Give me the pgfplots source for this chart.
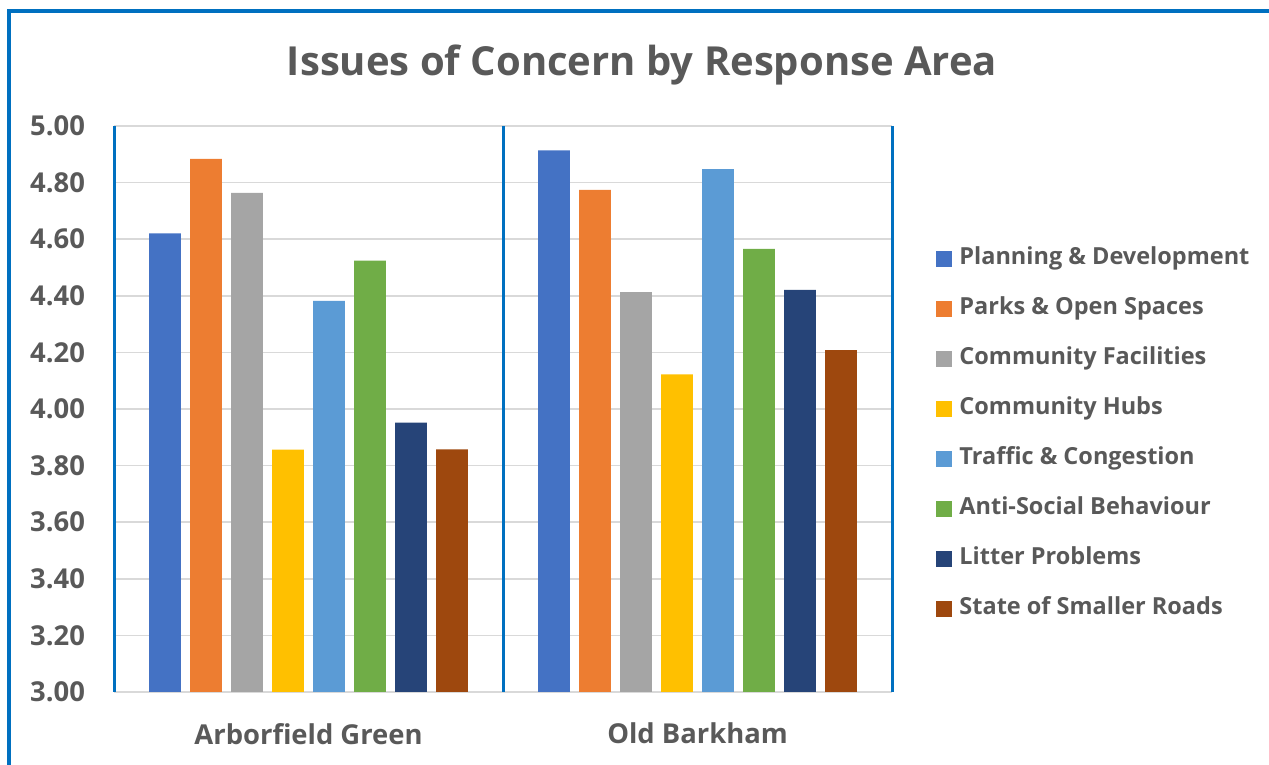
\documentclass[border=0pt]{standalone}
\usepackage{fontspec}
\setmainfont{Open Sans}
\usepackage{pgfplots}
\pgfplotsset{compat=1.18}
\definecolor{txt}{HTML}{595959}
\definecolor{gridgray}{HTML}{D9D9D9}
\definecolor{frameblue}{HTML}{0070C0}
\definecolor{c1}{HTML}{4472C4}
\definecolor{c2}{HTML}{ED7D31}
\definecolor{c3}{HTML}{A5A5A5}
\definecolor{c4}{HTML}{FFC000}
\definecolor{c5}{HTML}{5B9BD5}
\definecolor{c6}{HTML}{70AD47}
\definecolor{c7}{HTML}{264478}
\definecolor{c8}{HTML}{9E480E}
\begin{document}
\begin{tikzpicture}
% 1 px of the reference = 0.5pt
\path[use as bounding box] (0,0) rectangle (634.5pt,382.5pt);
\draw[frameblue, line width=1.6pt] (4.5pt,0pt) -- (4.5pt,377pt) -- (634.5pt,377pt);
\node[font=\bfseries\fontsize{20}{24}\selectfont, text=txt, anchor=base] at (321pt,344.5pt) {Issues of Concern by Response Area};
\begin{axis}[
  at={(57pt,36.5pt)}, anchor=south west,
  scale only axis, width=389pt, height=283pt,
  ybar, bar width=0.082,
  xmin=-0.5, xmax=1.5, ymin=3, ymax=5,
  xtick={0,1}, xticklabels={Arborfield Green, Old Barkham},
  ytick={3,3.2,3.4,3.6,3.8,4,4.2,4.4,4.6,4.8,5},
  yticklabel style={/pgf/number format/fixed, /pgf/number format/fixed zerofill,
    /pgf/number format/precision=2, /pgf/number format/assume math mode=true, xshift=-11pt},
  ticklabel style={font=\bfseries\fontsize{13.7}{16}\selectfont, text=txt},
  xticklabel style={yshift=-12pt},
  major tick length=0pt,
  ymajorgrids, major grid style={gridgray, line width=0.75pt},
  extra x ticks={-0.5,0.5,1.5}, extra x tick labels={},
  extra x tick style={grid=major, major grid style={frameblue, line width=1.5pt}},
  x axis line style={draw=gridgray, line width=0.9pt},
  y axis line style={draw=none},
  legend cell align=left,
  legend image code/.code={\fill[#1] (0pt,-4pt) rectangle (8pt,4pt);},
  legend style={at={(1.0566,0.456)}, anchor=west, draw=none, inner sep=0pt,
    font=\bfseries\fontsize{11.75}{14}\selectfont, text=txt,
    nodes={text height=9pt, text depth=3pt, inner sep=0pt, inner xsep=3.5pt},
    row sep=13pt},
]
\addplot[fill=c1, draw=none, bar shift=-0.369] coordinates {(0,4.621) (1,4.914)};
\addplot[fill=c2, draw=none, bar shift=-0.2635] coordinates {(0,4.884) (1,4.774)};
\addplot[fill=c3, draw=none, bar shift=-0.158] coordinates {(0,4.764) (1,4.413)};
\addplot[fill=c4, draw=none, bar shift=-0.0527] coordinates {(0,3.856) (1,4.122)};
\addplot[fill=c5, draw=none, bar shift=0.0527] coordinates {(0,4.382) (1,4.848)};
\addplot[fill=c6, draw=none, bar shift=0.158] coordinates {(0,4.524) (1,4.566)};
\addplot[fill=c7, draw=none, bar shift=0.2635] coordinates {(0,3.952) (1,4.421)};
\addplot[fill=c8, draw=none, bar shift=0.369] coordinates {(0,3.857) (1,4.208)};
\legend{Planning \& Development, Parks \& Open Spaces, Community Facilities, Community Hubs, Traffic \& Congestion, Anti-Social Behaviour, Litter Problems, State of Smaller Roads}
\end{axis}
\end{tikzpicture}
\end{document}
